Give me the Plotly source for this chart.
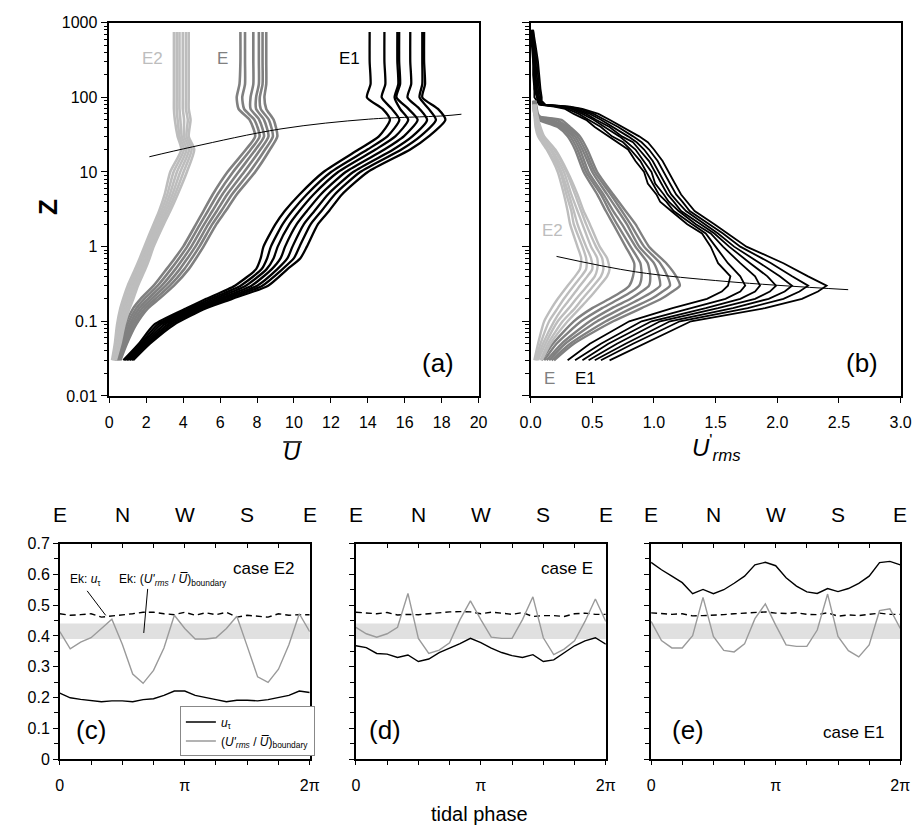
import numpy as np
import plotly.graph_objects as go

FONT = "Liberation Sans, Arial, sans-serif"
W, H = 924, 834

# ---------------- panel (a): mean velocity profiles ----------------
Z_A = [0.03, 0.05, 0.09, 0.15, 0.2, 0.3, 0.5, 0.7, 1, 2, 3, 5, 10, 20, 30, 50, 70, 100, 150, 300, 750]

U_E1 = [
    [0.76, 1.60, 2.43, 4.20, 5.25, 6.80, 7.95, 8.20, 8.35, 9.00, 9.50, 10.30, 11.60, 13.50, 14.60, 15.20, 14.80, 13.95, 14.15, 14.10, 14.10],
    [0.85, 1.70, 2.61, 4.38, 5.49, 7.11, 8.25, 8.55, 8.75, 9.39, 9.91, 10.69, 12.01, 13.98, 15.06, 15.71, 15.30, 14.75, 14.95, 14.90, 14.90],
    [0.93, 1.80, 2.78, 4.55, 5.71, 7.39, 8.52, 8.90, 9.12, 9.76, 10.29, 11.06, 12.39, 14.42, 15.49, 16.19, 15.75, 15.45, 15.65, 15.60, 15.60],
    [1.02, 1.90, 2.96, 4.72, 5.95, 7.70, 8.80, 9.28, 9.52, 10.15, 10.70, 11.45, 12.80, 14.90, 15.95, 16.70, 16.20, 15.55, 15.75, 15.70, 15.70],
    [1.11, 2.00, 3.15, 4.90, 6.19, 8.01, 9.10, 9.65, 9.92, 10.54, 11.11, 11.84, 13.21, 15.38, 16.41, 17.21, 16.80, 16.15, 16.35, 16.30, 16.30],
    [1.20, 2.10, 3.32, 5.07, 6.41, 8.29, 9.38, 10.00, 10.30, 10.91, 11.49, 12.21, 13.59, 15.82, 16.84, 17.69, 17.30, 16.80, 16.95, 16.95, 16.95],
    [1.29, 2.20, 3.50, 5.25, 6.65, 8.60, 9.65, 10.35, 10.70, 11.30, 11.90, 12.60, 14.00, 16.30, 17.30, 18.20, 17.80, 16.95, 17.10, 17.05, 17.05],
]
U_E = [
    [0.30, 0.55, 0.85, 1.30, 1.70, 2.40, 3.10, 3.55, 4.00, 4.70, 5.10, 5.60, 6.40, 7.40, 7.90, 7.60, 7.00, 6.90, 7.05, 7.10, 7.10],
    [0.36, 0.63, 0.97, 1.46, 1.90, 2.62, 3.34, 3.78, 4.22, 4.92, 5.34, 5.86, 6.70, 7.66, 8.14, 7.86, 7.30, 7.20, 7.35, 7.35, 7.35],
    [0.42, 0.71, 1.09, 1.62, 2.10, 2.84, 3.58, 4.01, 4.44, 5.14, 5.58, 6.12, 7.00, 7.92, 8.38, 8.12, 7.65, 7.65, 7.80, 7.80, 7.80],
    [0.48, 0.79, 1.21, 1.78, 2.30, 3.06, 3.82, 4.24, 4.66, 5.36, 5.82, 6.38, 7.30, 8.18, 8.62, 8.38, 7.95, 7.95, 8.10, 8.10, 8.10],
    [0.54, 0.87, 1.33, 1.94, 2.50, 3.28, 4.06, 4.47, 4.88, 5.58, 6.06, 6.64, 7.60, 8.44, 8.86, 8.64, 8.20, 8.15, 8.30, 8.30, 8.30],
    [0.60, 0.95, 1.45, 2.10, 2.70, 3.50, 4.30, 4.70, 5.10, 5.80, 6.30, 6.90, 7.90, 8.70, 9.10, 8.90, 8.50, 8.40, 8.50, 8.50, 8.50],
]
U_E2 = [
    [0.15, 0.30, 0.42, 0.60, 0.75, 1.00, 1.40, 1.65, 1.90, 2.40, 2.70, 3.00, 3.30, 3.90, 3.70, 3.55, 3.50, 3.50, 3.50, 3.50, 3.50],
    [0.19, 0.36, 0.50, 0.70, 0.86, 1.11, 1.51, 1.76, 2.00, 2.51, 2.82, 3.14, 3.48, 4.04, 3.80, 3.70, 3.65, 3.65, 3.65, 3.65, 3.65],
    [0.23, 0.42, 0.58, 0.80, 0.97, 1.22, 1.62, 1.86, 2.10, 2.62, 2.94, 3.28, 3.66, 4.18, 3.92, 3.85, 3.80, 3.80, 3.80, 3.80, 3.80],
    [0.27, 0.48, 0.66, 0.90, 1.08, 1.33, 1.73, 1.97, 2.20, 2.73, 3.06, 3.42, 3.84, 4.32, 4.05, 4.05, 3.98, 3.98, 3.98, 3.98, 3.98],
    [0.31, 0.54, 0.74, 1.00, 1.19, 1.44, 1.84, 2.07, 2.30, 2.84, 3.18, 3.56, 4.02, 4.46, 4.18, 4.25, 4.15, 4.15, 4.15, 4.15, 4.15],
    [0.35, 0.60, 0.82, 1.10, 1.30, 1.55, 1.95, 2.18, 2.40, 2.95, 3.30, 3.70, 4.20, 4.60, 4.30, 4.40, 4.30, 4.30, 4.30, 4.30, 4.30],
]
BL_A_U = [2.17, 4.5, 9.3, 14.05, 18.1, 19.07]
BL_A_Z = [16, 21.7, 37.8, 51, 56.5, 59.4]

# ---------------- panel (b): rms velocity profiles ----------------
Z_B1 = [0.03, 0.05, 0.1, 0.15, 0.2, 0.25, 0.3, 0.4, 0.6, 1, 1.5, 2, 3, 4, 5, 7, 10, 14, 20, 25,
        30, 40, 50, 60, 70, 75, 80, 90, 100, 130, 200, 300, 500, 800]
R_E1 = [
    [0.30, 0.48, 0.80, 1.15, 1.43, 1.55, 1.60, 1.62, 1.52, 1.46, 1.39, 1.27, 1.14, 1.05, 1.02, 0.95, 0.92, 0.85, 0.79, 0.70, 0.63, 0.52, 0.45, 0.35, 0.28, 0.19, 0.07, 0.05, 0.03, 0.03, 0.02, 0.02, 0.01, 0.00],
    [0.36, 0.57, 0.90, 1.30, 1.58, 1.70, 1.74, 1.70, 1.60, 1.50, 1.42, 1.31, 1.16, 1.10, 1.04, 0.99, 0.94, 0.89, 0.81, 0.75, 0.66, 0.57, 0.47, 0.39, 0.30, 0.22, 0.08, 0.06, 0.05, 0.03, 0.04, 0.02, 0.02, 0.01],
    [0.42, 0.63, 0.98, 1.42, 1.70, 1.82, 1.86, 1.82, 1.70, 1.56, 1.46, 1.34, 1.20, 1.12, 1.08, 1.01, 0.98, 0.92, 0.85, 0.78, 0.72, 0.60, 0.51, 0.42, 0.33, 0.24, 0.09, 0.05, 0.06, 0.04, 0.03, 0.04, 0.02, 0.01],
    [0.47, 0.70, 1.05, 1.52, 1.82, 1.94, 1.99, 1.92, 1.78, 1.61, 1.49, 1.38, 1.22, 1.16, 1.11, 1.06, 1.01, 0.96, 0.88, 0.83, 0.74, 0.64, 0.53, 0.45, 0.35, 0.25, 0.09, 0.07, 0.06, 0.05, 0.04, 0.03, 0.03, 0.01],
    [0.52, 0.77, 1.13, 1.64, 1.93, 2.06, 2.12, 2.02, 1.86, 1.65, 1.52, 1.41, 1.26, 1.19, 1.14, 1.09, 1.04, 0.99, 0.92, 0.86, 0.79, 0.67, 0.57, 0.48, 0.37, 0.28, 0.10, 0.07, 0.07, 0.06, 0.05, 0.04, 0.02, 0.02],
    [0.57, 0.83, 1.21, 1.76, 2.05, 2.18, 2.25, 2.12, 1.95, 1.70, 1.56, 1.45, 1.29, 1.23, 1.18, 1.13, 1.08, 1.03, 0.96, 0.90, 0.83, 0.71, 0.60, 0.51, 0.40, 0.30, 0.11, 0.08, 0.08, 0.07, 0.06, 0.05, 0.03, 0.02],
    [0.64, 0.92, 1.30, 1.90, 2.20, 2.33, 2.40, 2.25, 2.05, 1.75, 1.60, 1.49, 1.33, 1.27, 1.22, 1.17, 1.12, 1.07, 1.00, 0.95, 0.88, 0.75, 0.64, 0.55, 0.42, 0.32, 0.12, 0.09, 0.09, 0.08, 0.07, 0.06, 0.04, 0.02],
]
Z_BE = [0.03, 0.05, 0.1, 0.15, 0.2, 0.25, 0.3, 0.4, 0.6, 1, 2, 3, 5, 10, 20, 30, 40, 50, 55, 60, 90]
R_E = [
    [0.09, 0.18, 0.35, 0.50, 0.64, 0.74, 0.80, 0.83, 0.84, 0.77, 0.67, 0.61, 0.54, 0.43, 0.36, 0.30, 0.22, 0.06, 0.04, 0.03, 0.02],
    [0.11, 0.21, 0.41, 0.58, 0.72, 0.82, 0.88, 0.90, 0.89, 0.81, 0.70, 0.64, 0.57, 0.45, 0.38, 0.32, 0.24, 0.10, 0.05, 0.04, 0.02],
    [0.13, 0.25, 0.48, 0.66, 0.81, 0.90, 0.96, 0.97, 0.95, 0.85, 0.74, 0.67, 0.59, 0.47, 0.40, 0.34, 0.26, 0.14, 0.06, 0.04, 0.03],
    [0.15, 0.28, 0.54, 0.74, 0.89, 0.99, 1.05, 1.04, 1.00, 0.88, 0.78, 0.71, 0.62, 0.50, 0.42, 0.36, 0.28, 0.17, 0.06, 0.05, 0.03],
    [0.17, 0.32, 0.61, 0.82, 0.98, 1.07, 1.13, 1.11, 1.05, 0.92, 0.81, 0.74, 0.65, 0.52, 0.44, 0.38, 0.30, 0.21, 0.07, 0.05, 0.04],
    [0.19, 0.35, 0.67, 0.90, 1.06, 1.15, 1.21, 1.18, 1.10, 0.96, 0.85, 0.77, 0.67, 0.54, 0.46, 0.40, 0.32, 0.25, 0.08, 0.06, 0.04],
]
Z_BE2 = [0.03, 0.05, 0.1, 0.15, 0.2, 0.3, 0.4, 0.5, 0.7, 1, 2, 3, 5, 10, 20, 30, 40, 60, 80]
R_E2 = [
    [0.03, 0.06, 0.11, 0.17, 0.22, 0.30, 0.36, 0.40, 0.41, 0.38, 0.32, 0.30, 0.27, 0.22, 0.13, 0.06, 0.04, 0.03, 0.02],
    [0.04, 0.08, 0.15, 0.22, 0.27, 0.35, 0.41, 0.45, 0.45, 0.42, 0.35, 0.33, 0.29, 0.24, 0.14, 0.07, 0.05, 0.03, 0.02],
    [0.05, 0.10, 0.19, 0.26, 0.32, 0.40, 0.46, 0.50, 0.49, 0.45, 0.38, 0.35, 0.31, 0.25, 0.16, 0.08, 0.05, 0.04, 0.03],
    [0.06, 0.12, 0.22, 0.31, 0.37, 0.46, 0.52, 0.54, 0.54, 0.49, 0.42, 0.38, 0.33, 0.27, 0.17, 0.09, 0.06, 0.04, 0.03],
    [0.08, 0.14, 0.26, 0.36, 0.42, 0.51, 0.57, 0.59, 0.58, 0.53, 0.45, 0.41, 0.36, 0.29, 0.19, 0.10, 0.07, 0.05, 0.04],
    [0.09, 0.16, 0.30, 0.40, 0.47, 0.56, 0.62, 0.64, 0.62, 0.56, 0.48, 0.43, 0.38, 0.30, 0.20, 0.11, 0.08, 0.05, 0.04],
]
BL_B_U = [0.21, 0.85, 1.6, 2.575]
BL_B_Z = [0.74, 0.46, 0.34, 0.265]

# ---------------- panels (c)-(e): tidal phase series ----------------
N_PHASE = 25
PHASE = np.linspace(0, 2 * np.pi, N_PHASE)
COMPASS = ["E", "N", "W", "S", "E"]

UTAU_E2 = [0.214, 0.199, 0.194, 0.189, 0.186, 0.189, 0.189, 0.186, 0.193, 0.196, 0.207, 0.221, 0.221,
           0.207, 0.199, 0.193, 0.186, 0.191, 0.191, 0.189, 0.193, 0.201, 0.207, 0.221, 0.216]
EK_E2 = [0.472, 0.467, 0.469, 0.472, 0.461, 0.464, 0.467, 0.472, 0.477, 0.477, 0.472, 0.469, 0.477,
         0.467, 0.475, 0.469, 0.477, 0.461, 0.467, 0.464, 0.461, 0.472, 0.467, 0.469, 0.469]
RAT_E2 = [0.414, 0.358, 0.380, 0.394, 0.424, 0.454, 0.373, 0.276, 0.246, 0.288, 0.361, 0.467, 0.424,
          0.390, 0.390, 0.394, 0.424, 0.464, 0.366, 0.267, 0.249, 0.292, 0.371, 0.472, 0.414]

UTAU_E = [0.368, 0.362, 0.343, 0.341, 0.330, 0.338, 0.317, 0.325, 0.346, 0.360, 0.375, 0.392, 0.378,
          0.360, 0.346, 0.336, 0.330, 0.339, 0.317, 0.322, 0.346, 0.368, 0.384, 0.394, 0.373]
EK_E = [0.477, 0.475, 0.472, 0.476, 0.468, 0.470, 0.469, 0.472, 0.476, 0.478, 0.479, 0.478, 0.472,
        0.477, 0.474, 0.470, 0.476, 0.463, 0.466, 0.466, 0.463, 0.472, 0.474, 0.470, 0.470]
RAT_E = [0.428, 0.407, 0.396, 0.407, 0.428, 0.538, 0.392, 0.343, 0.354, 0.378, 0.453, 0.514, 0.453,
         0.396, 0.392, 0.392, 0.453, 0.527, 0.394, 0.339, 0.357, 0.384, 0.447, 0.520, 0.447]

UTAU_E1 = [0.639, 0.615, 0.594, 0.573, 0.537, 0.551, 0.537, 0.550, 0.571, 0.594, 0.631, 0.639, 0.628,
           0.589, 0.562, 0.543, 0.538, 0.554, 0.544, 0.554, 0.571, 0.594, 0.638, 0.642, 0.631]
EK_E1 = [0.475, 0.472, 0.470, 0.472, 0.465, 0.466, 0.467, 0.469, 0.472, 0.474, 0.477, 0.478, 0.474,
         0.473, 0.475, 0.470, 0.469, 0.475, 0.464, 0.468, 0.466, 0.470, 0.474, 0.470, 0.470]
RAT_E1 = [0.447, 0.385, 0.361, 0.361, 0.401, 0.525, 0.398, 0.353, 0.348, 0.374, 0.456, 0.504, 0.435,
          0.371, 0.366, 0.366, 0.419, 0.536, 0.398, 0.352, 0.332, 0.371, 0.482, 0.488, 0.424]

BAND = [0.39, 0.44]

# ---------------- layout geometry (pixels) ----------------
def px(x):
    return x / W

def py(y):
    return 1 - y / H

C_E2, C_E, C_E1 = "#bdbdbd", "#808080", "#000000"
C_RAT = "#9a9a9a"

fig = go.Figure()

def fam(curves, z, color, width, xa, ya, shape="spline"):
    for c in curves:
        fig.add_trace(go.Scatter(x=c, y=z, mode="lines", xaxis=xa, yaxis=ya,
                                 line=dict(color=color, width=width, shape=shape, smoothing=0.6),
                                 showlegend=False, hoverinfo="skip"))

fam(U_E1, Z_A, C_E1, 2.3, "x", "y")
fam(U_E, Z_A, C_E, 2.6, "x", "y")
fam(U_E2, Z_A, C_E2, 2.6, "x", "y")
fig.add_trace(go.Scatter(x=BL_A_U, y=BL_A_Z, mode="lines", line=dict(color="black", width=1, shape="spline"),
                         xaxis="x", yaxis="y", showlegend=False, hoverinfo="skip"))

fam(R_E1, Z_B1, C_E1, 1.8, "x2", "y2", "linear")
fam(R_E, Z_BE, C_E, 2.4, "x2", "y2")
fam(R_E2, Z_BE2, C_E2, 2.4, "x2", "y2")
fig.add_trace(go.Scatter(x=BL_B_U, y=BL_B_Z, mode="lines", line=dict(color="black", width=1, shape="spline"),
                         xaxis="x2", yaxis="y2", showlegend=False, hoverinfo="skip"))

series = [(UTAU_E2, EK_E2, RAT_E2, "x3", "y3"), (UTAU_E, EK_E, RAT_E, "x4", "y4"),
          (UTAU_E1, EK_E1, RAT_E1, "x5", "y5")]
for i, (ut, ek, rt, xa, ya) in enumerate(series):
    fig.add_trace(go.Scatter(x=PHASE, y=ek, mode="lines", xaxis=xa, yaxis=ya,
                             line=dict(color="black", width=1.4, dash="6px,4px"),
                             showlegend=False, hoverinfo="skip"))
    fig.add_trace(go.Scatter(x=PHASE, y=rt, mode="lines", xaxis=xa, yaxis=ya,
                             line=dict(color=C_RAT, width=1.4),
                             name="(<i>U'</i><sub><i>rms</i></sub> / <i>U\u0305</i>)<sub>boundary</sub>",
                             showlegend=(i == 0), legendrank=2, hoverinfo="skip"))
    fig.add_trace(go.Scatter(x=PHASE, y=ut, mode="lines", xaxis=xa, yaxis=ya,
                             line=dict(color="black", width=1.4), name="<i>u</i><sub>\u03c4</sub>",
                             showlegend=(i == 0), legendrank=1, hoverinfo="skip"))
# carriers for top tick axes
for n in (6, 7, 8):
    fig.add_trace(go.Scatter(x=[None], y=[None], xaxis=f"x{n}", yaxis=f"y{n-3}", showlegend=False,
                             hoverinfo="skip"))

TF = dict(family=FONT, size=16, color="black")
base = dict(showline=True, linecolor="black", linewidth=1.5, mirror=True, showgrid=False,
            zeroline=False, tickfont=TF, tickcolor="black", tickwidth=1.2)

ymaj = [0.01, 0.1, 1, 10, 100, 1000]
ymin = [m * d for d in [0.01, 0.1, 1, 10, 100] for m in range(2, 10)]
ylog = dict(type="log", range=[-2, 3], tickvals=ymaj, ticktext=["0.01", "0.1", "1", "10", "100", "1000"],
            ticks="outside", ticklen=7,
            minor=dict(tickvals=ymin, ticks="outside", ticklen=4, tickcolor="black", tickwidth=1))

YA = [py(396), py(15)]
YB = [py(766.7), py(546.7)]
pi = np.pi
lay = dict(
    width=W, height=H, margin=dict(l=0, r=0, t=0, b=0), paper_bgcolor="white", plot_bgcolor="white",
    font=dict(family=FONT, color="black"),
    xaxis=dict(base, domain=[px(100.7), px(479)], anchor="y", range=[0, 20], tickvals=list(range(0, 21, 2)),
               ticks="outside", ticklen=5, ticklabelstandoff=6),
    yaxis=dict(base, domain=YA, anchor="x", **ylog),
    xaxis2=dict(base, domain=[px(532.3), px(911.3)], anchor="y2", range=[0, 3],
                tickvals=[0, 0.5, 1, 1.5, 2, 2.5, 3], ticktext=["0.0", "0.5", "1.0", "1.5", "2.0", "2.5", "3.0"],
                ticks="outside", ticklen=5, ticklabelstandoff=6),
    yaxis2=dict(base, domain=YA, anchor="x2", showticklabels=False, **ylog),
)
xdoms = [[px(50), px(306)], [px(353.3), px(609.3)], [px(655.7), px(911)]]
qt = [k * pi / 4 for k in range(9)]
for j, n in enumerate((3, 4, 5)):
    lay[f"xaxis{n}"] = dict(base, domain=xdoms[j], anchor=f"y{n}", range=[0, 2 * pi],
                            tickvals=[0, pi, 2 * pi], ticktext=["0", "\u03c0", "2\u03c0"],
                            ticks="outside", ticklen=4, ticklabelstandoff=7,
                            minor=dict(tickvals=qt, ticks="outside", ticklen=4, tickcolor="black", tickwidth=1))
    lay[f"yaxis{n}"] = dict(base, domain=YB, anchor=f"x{n}", range=[0, 0.7],
                            tickvals=[0, 0.1, 0.2, 0.3, 0.4, 0.5, 0.6, 0.7],
                            ticktext=["0", "0.1", "0.2", "0.3", "0.4", "0.5", "0.6", "0.7"],
                            showticklabels=(n == 3), ticks="outside", ticklen=5,
                            minor=dict(dtick=0.05, tick0=0, ticks="outside", ticklen=4, tickcolor="black",
                                       tickwidth=1))
    lay[f"xaxis{n+3}"] = dict(overlaying=f"x{n}", anchor=f"y{n}", side="top", range=[0, 2 * pi],
                              tickvals=qt, ticks="inside", ticklen=4, tickcolor="black", tickwidth=1,
                              showticklabels=False, showgrid=False, zeroline=False, showline=False)

fig.update_layout(**lay)

ann = []
def A(x, y, text, size=16, color="black", xa="center", ya="middle", **kw):
    ann.append(dict(x=px(x), y=py(y), xref="paper", yref="paper", text=text, showarrow=False,
                    font=dict(family=FONT, size=size, color=color), xanchor=xa, yanchor=ya, **kw))

A(145, 52, "E2", 17, C_E2)
A(217, 52, "E", 17, C_E)
A(347, 52, "E1", 17, C_E1)
A(437, 362, "(a)", 26)
A(555, 227, "E2", 17, C_E2)
A(552, 378, "E", 17, C_E)
A(588, 378, "E1", 17, C_E1)
A(872, 362, "(b)", 26)
A(38, 203, "<b>Z</b>", 26, textangle=-90)
A(288, 453, "<i>U</i>", 24)
A(723, 449, "<i>U</i><sup>'</sup><sub><i>rms</i></sub>", 24)
A(259, 572, "case E2", 17)
A(570, 572, "case E", 17)
A(863, 740, "case E1", 17)
A(82, 737, "(c)", 26)
A(383, 737, "(d)", 26)
A(693, 737, "(e)", 26)
A(58, 584, "Ek: <i>u</i><sub>\u03c4</sub>", 12, xa="left")
A(109, 584, "Ek: (<i>U'</i><sub><i>rms</i></sub> / <i>U\u0305</i>)<sub>boundary</sub>", 12, xa="left")
A(480, 823, "tidal phase", 20)
for n in (3, 4, 5):
    for k, lab in enumerate(COMPASS):
        ann.append(dict(x=k * pi / 2, xref=f"x{n}", y=py(517), yref="paper", text=lab, showarrow=False,
                        font=dict(family=FONT, size=21, color="black"), xanchor="center", yanchor="middle"))
fig.update_layout(annotations=ann)

shapes = []
for n in (3, 4, 5):
    shapes.append(dict(type="rect", xref=f"x{n} domain", yref=f"y{n}", x0=0, x1=1, y0=BAND[0], y1=BAND[1],
                       fillcolor="#e0e0e0", line=dict(width=0), layer="below"))
def L(x0, y0, x1, y1, w=1):
    shapes.append(dict(type="line", xref="paper", yref="paper", x0=px(x0), y0=py(y0), x1=px(x1), y1=py(y1),
                       line=dict(color="black", width=w)))
L(78, 595, 97, 620)
L(140, 593, 136, 638)
L(279, 443, 298, 443, 1.5)
fig.update_layout(shapes=shapes)

fig.update_layout(legend=dict(x=px(173), y=py(713), xanchor="left", yanchor="top", bgcolor="white",
                              bordercolor="#888888", borderwidth=1, font=dict(family=FONT, size=12),
                              tracegroupgap=0, itemwidth=30))

fig.write_html("out.html")
